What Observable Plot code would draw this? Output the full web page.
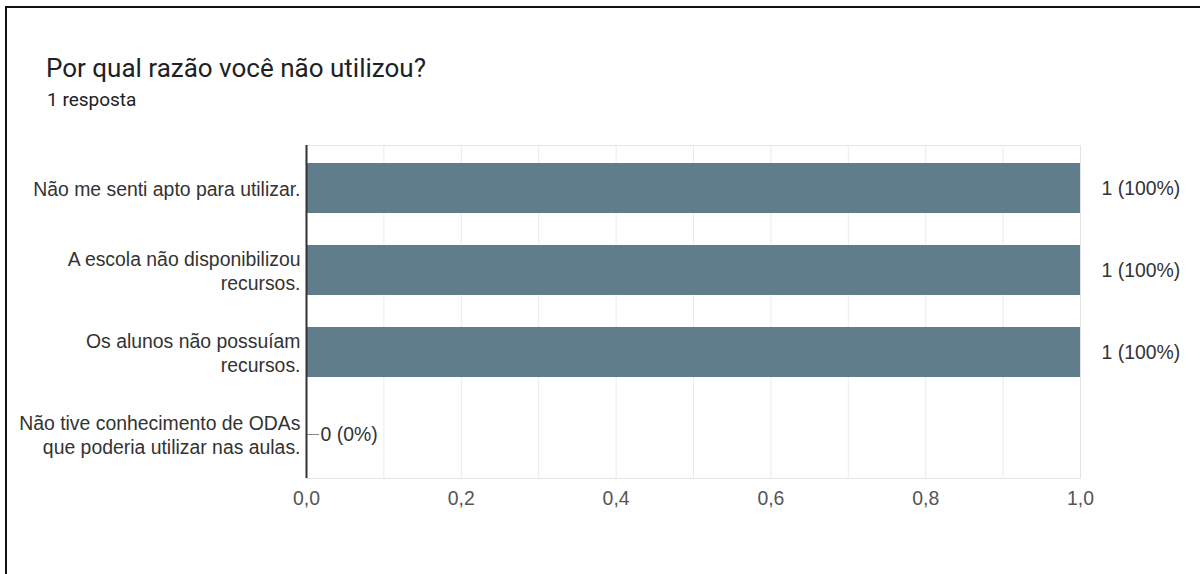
<!DOCTYPE html>
<html>
<head>
<meta charset="utf-8">
<script src="https://cdn.jsdelivr.net/npm/d3@7"></script>
<script src="https://cdn.jsdelivr.net/npm/@observablehq/plot@0.6"></script>
<style>
  html, body { margin: 0; padding: 0; background: #fff; }
  #wrap { position: relative; width: 1200px; height: 574px; overflow: hidden; font-family: Roboto, "Noto Sans", sans-serif; }
  #frame { position: absolute; left: 5px; top: 6px; width: 1300px; height: 700px; border-left: 2px solid #111; border-top: 2px solid #111; box-sizing: border-box; }
  #head { position: relative; height: 130px; }
  #title { position: absolute; left: 46px; top: 53px; font-size: 26px; line-height: 30px; color: #202124; white-space: nowrap; }
  #sub { position: absolute; left: 47px; top: 89px; font-size: 19px; line-height: 22px; color: #202124; white-space: nowrap; }
  #chart { position: relative; }
</style>
</head>
<body>
<div id="wrap">
  <div id="frame"></div>
  <div id="head">
    <div id="title">Por qual razão você não utilizou?</div>
    <div id="sub">1 resposta</div>
  </div>
  <div id="chart"></div>
</div>
<script>
// Data
const categories = [
  "Não me senti apto para utilizar.",
  "A escola não disponibilizou recursos.",
  "Os alunos não possuíam recursos.",
  "Não tive conhecimento de ODAs que poderia utilizar nas aulas."
];
const categoryLines = [
  "Não me senti apto para utilizar.",
  "A escola não disponibilizou\nrecursos.",
  "Os alunos não possuíam\nrecursos.",
  "Não tive conhecimento de ODAs\nque poderia utilizar nas aulas."
];
const counts = [1, 1, 1, 0];
const totalRespostas = 1;
const xTicks = [0, 0.2, 0.4, 0.6, 0.8, 1.0];
const gridTicks = [0.1, 0.2, 0.3, 0.4, 0.5, 0.6, 0.7, 0.8, 0.9, 1.0];

const data = categories.map((c, i) => ({
  label: c,
  value: counts[i],
  text: `${counts[i]} (${Math.round(counts[i] / totalRespostas * 100)}%)`
}));
const wrapMap = new Map(categories.map((c, i) => [c, categoryLines[i]]));
const commaFmt = d => d3.format(".1f")(d).replace(".", ",");

const chart = Plot.plot({
  width: 1200,
  height: 444,
  marginLeft: 306,
  marginRight: 120,
  marginTop: 15,
  marginBottom: 96,
  style: { background: "transparent", fontFamily: "'Liberation Sans', Arial, sans-serif", fontSize: "19.4px", color: "#333" },
  x: { domain: [0, 1], axis: null },
  y: { domain: categories, paddingInner: 0.386, paddingOuter: 0.205, axis: null },
  marks: [
    Plot.gridX(gridTicks, { stroke: "#ebebeb", strokeOpacity: 1 }),
    Plot.frame({ stroke: "#e4e4e4" }),
    Plot.barX(data, { x: "value", y: "label", fill: "#607d8b" }),
    Plot.ruleY(data.filter(d => d.value === 0), { y: "label", x1: "value", x2: "value", insetLeft: 1, insetRight: -13, stroke: "#888", strokeWidth: 1 }),
    Plot.text(data.filter(d => d.value > 0), { x: "value", y: "label", text: "text", dx: 21, textAnchor: "start", fontSize: 19.4, fill: "#333" }),
    Plot.text(data.filter(d => d.value === 0), { x: "value", y: "label", text: "text", dx: 14, textAnchor: "start", fontSize: 19.4, fill: "#333" }),
    Plot.ruleX([0], { stroke: "#333", strokeWidth: 2 }),
    Plot.axisY({ tickSize: 0, tickPadding: 6, fontSize: 19.4, lineHeight: 1.24, tickFormat: d => wrapMap.get(d), label: null, fill: "#333" }),
    Plot.axisX(xTicks, { tickSize: 0, tickPadding: 13, fontSize: 19.4, tickFormat: commaFmt, label: null, fill: "#555" })
  ]
});
document.getElementById("chart").appendChild(chart);
</script>
</body>
</html>
